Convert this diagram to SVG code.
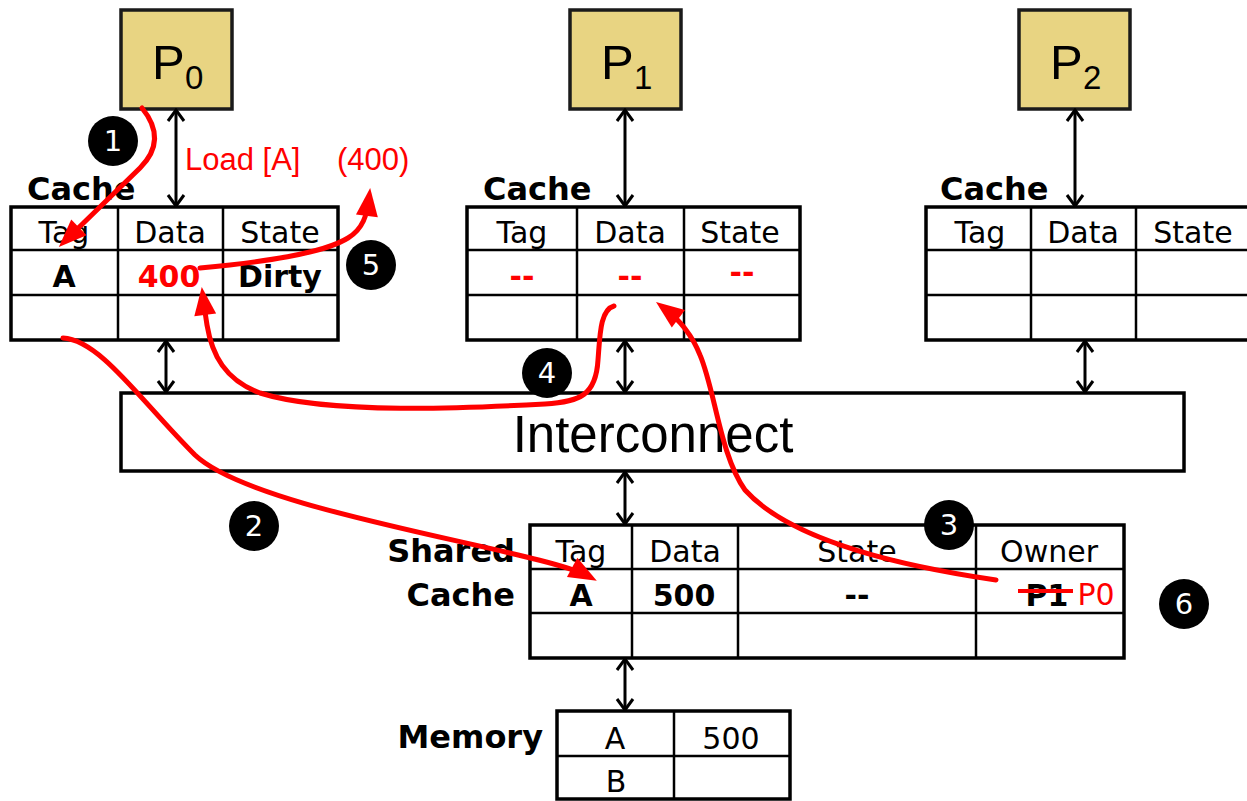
<svg xmlns="http://www.w3.org/2000/svg" width="1247" height="801" viewBox="0 0 1247 801">
<style>
.tb{fill:#fff;stroke:#000;stroke-width:3.5}
.tl{stroke:#000;stroke-width:2.5}
.pb{fill:#e8d482;stroke:#1a1a1a;stroke-width:3.5}
.pt{font-family:"Liberation Sans",Arial,sans-serif;font-size:49px;fill:#000}
.ps{font-family:"Liberation Sans",Arial,sans-serif;font-size:33px;fill:#000}
.hd{font-family:"DejaVu Sans",sans-serif;font-size:30px;text-anchor:middle;fill:#000}
.bd{font-family:"DejaVu Sans",sans-serif;font-weight:bold;font-size:30px;text-anchor:middle;fill:#000}
.lbl{font-family:"DejaVu Sans",sans-serif;font-weight:bold;font-size:32px;fill:#000}
.red{fill:#ff0000}
.ann{font-family:"Liberation Sans",Arial,sans-serif;font-size:31px;fill:#ff0000}
.bk{stroke:#000;stroke-width:3;fill:none;marker-start:url(#chev);marker-end:url(#chev)}
.rc{fill:none;stroke:#ff0000;stroke-width:5;stroke-linecap:round;marker-end:url(#rh)}
.nc{fill:#000}
.nt{font-family:"DejaVu Sans",sans-serif;font-size:29px;fill:#fff;text-anchor:middle}
</style>
<defs>
<marker id="chev" viewBox="-14 -10 16 20" refX="0" refY="0" markerWidth="16" markerHeight="20" markerUnits="userSpaceOnUse" orient="auto-start-reverse"><path d="M-11,-8 L0,0 L-11,8" fill="none" stroke="#000" stroke-width="3"/></marker>
<marker id="rh" viewBox="-20 -12 32 24" refX="0" refY="0" markerWidth="32" markerHeight="24" markerUnits="userSpaceOnUse" orient="auto"><path d="M10,0 L-18,-11 L-18,11 Z" fill="#ff0000"/></marker>
</defs>
<rect width="1247" height="801" fill="#fff"/>

<g id="p0"><rect class="pb" x="121" y="10" width="111" height="99"/><text class="pt" x="152" y="79">P</text><text class="ps" x="185" y="89">0</text></g>
<g id="p1"><rect class="pb" x="570" y="10" width="111" height="99"/><text class="pt" x="601" y="79">P</text><text class="ps" x="634" y="89">1</text></g>
<g id="p2"><rect class="pb" x="1019" y="10" width="111" height="99"/><text class="pt" x="1050" y="79">P</text><text class="ps" x="1083" y="89">2</text></g>

<g id="cache0">
<text class="lbl" x="27" y="200">Cache</text>
<rect class="tb" x="11" y="207" width="327" height="133"/>
<line class="tl" x1="11" y1="250" x2="338" y2="250"/><line class="tl" x1="11" y1="295" x2="338" y2="295"/>
<line class="tl" x1="118" y1="207" x2="118" y2="340"/><line class="tl" x1="223" y1="207" x2="223" y2="340"/>
<text class="hd" x="64" y="243">Tag</text><text class="hd" x="170" y="243">Data</text><text class="hd" x="280" y="243">State</text>
<text class="bd" x="64" y="287">A</text><text class="bd red" x="169" y="287">400</text><text class="bd" x="280" y="287">Dirty</text>
</g>
<g id="cache1">
<text class="lbl" x="483" y="200">Cache</text>
<rect class="tb" x="467" y="207" width="333" height="133"/>
<line class="tl" x1="467" y1="250" x2="800" y2="250"/><line class="tl" x1="467" y1="295" x2="800" y2="295"/>
<line class="tl" x1="577" y1="207" x2="577" y2="340"/><line class="tl" x1="684" y1="207" x2="684" y2="340"/>
<text class="hd" x="522" y="243">Tag</text><text class="hd" x="630" y="243">Data</text><text class="hd" x="740" y="243">State</text>
<text class="bd red" x="522" y="287">--</text><text class="bd red" x="630" y="287">--</text><text class="bd red" x="742" y="283">--</text>
</g>
<g id="cache2">
<text class="lbl" x="940" y="200">Cache</text>
<rect class="tb" x="926" y="207" width="340" height="133"/>
<line class="tl" x1="926" y1="250" x2="1266" y2="250"/><line class="tl" x1="926" y1="295" x2="1266" y2="295"/>
<line class="tl" x1="1031" y1="207" x2="1031" y2="340"/><line class="tl" x1="1136" y1="207" x2="1136" y2="340"/>
<text class="hd" x="980" y="243">Tag</text><text class="hd" x="1083" y="243">Data</text><text class="hd" x="1193" y="243">State</text>
</g>
<g id="interconnect">
<rect class="tb" x="121" y="393" width="1063" height="78"/>
<text x="653" y="452" font-family="Liberation Sans, Arial, sans-serif" font-size="51" text-anchor="middle">Interconnect</text>
</g>
<g id="shared">
<text class="lbl" x="515" y="562" text-anchor="end">Shared</text>
<text class="lbl" x="515" y="606" text-anchor="end">Cache</text>
<rect class="tb" x="530" y="525" width="594" height="133"/>
<line class="tl" x1="530" y1="569" x2="1124" y2="569"/><line class="tl" x1="530" y1="613" x2="1124" y2="613"/>
<line class="tl" x1="632" y1="525" x2="632" y2="658"/><line class="tl" x1="738" y1="525" x2="738" y2="658"/><line class="tl" x1="976" y1="525" x2="976" y2="658"/>
<text class="hd" x="581" y="562" font-size="32">Tag</text><text class="hd" x="685" y="562" font-size="32">Data</text><text class="hd" x="857" y="562" font-size="32">State</text><text class="hd" x="1049" y="562" font-size="32">Owner</text>
<text class="bd" x="581" y="606" font-size="32">A</text><text class="bd" x="684" y="606" font-size="32">500</text><text class="bd" x="857" y="606" font-size="32">--</text>
<text class="bd" x="1047" y="606" font-size="32">P1</text>
<text class="hd red" x="1096" y="605" font-size="31">P0</text>
<line x1="1018" y1="591" x2="1073" y2="591" stroke="#ff0000" stroke-width="4"/>
</g>
<g id="memory">
<text class="lbl" x="543" y="748" text-anchor="end">Memory</text>
<rect class="tb" x="557" y="711" width="233" height="88"/>
<line class="tl" x1="557" y1="756" x2="790" y2="756"/><line class="tl" x1="674" y1="711" x2="674" y2="799"/>
<text class="hd" x="615" y="749" font-size="32">A</text><text class="hd" x="731" y="749" font-size="31">500</text><text class="hd" x="616" y="792" font-size="32">B</text>
</g>

<g id="connectors">
<line class="bk" x1="176" y1="110" x2="176" y2="206"/>
<line class="bk" x1="625" y1="110" x2="625" y2="206"/>
<line class="bk" x1="1075" y1="110" x2="1075" y2="206"/>
<line class="bk" x1="166" y1="341" x2="166" y2="392"/>
<line class="bk" x1="625" y1="341" x2="625" y2="392"/>
<line class="bk" x1="1085" y1="341" x2="1085" y2="392"/>
<line class="bk" x1="625" y1="472" x2="625" y2="524"/>
<line class="bk" x1="625" y1="659" x2="625" y2="710"/>
</g>

<g id="annotations">
<text class="ann" x="185" y="170">Load [A]</text>
<text class="ann" x="337" y="170">(400)</text>
<path class="rc" d="M142,108 C160,130 158,150 140,168 L66,240"/>
<path class="rc" d="M63,338 C100,340 140,400 195,455 C255,512 540,550 588,576"/>
<path class="rc" d="M996,580 C900,566 790,540 745,490 C720,455 715,390 700,355 C692,335 680,320 664,308"/>
<path class="rc" d="M614,306 C600,310 600,335 598,360 C596,395 580,402 545,404 C470,408 330,415 260,393 C225,380 212,355 207,325 C205,312 204,305 203,297"/>
<path class="rc" d="M200,268 C262,262 322,254 348,238 C363,229 367,215 369,198"/>
</g>

<g id="steps">
<g id="s1"><circle class="nc" cx="113" cy="141" r="25"/><text class="nt" x="113" y="151">1</text></g>
<g id="s2"><circle class="nc" cx="254" cy="526" r="25"/><text class="nt" x="254" y="536">2</text></g>
<g id="s3"><circle class="nc" cx="949" cy="525" r="25"/><text class="nt" x="949" y="535">3</text></g>
<g id="s4"><circle class="nc" cx="547" cy="373" r="25"/><text class="nt" x="547" y="383">4</text></g>
<g id="s5"><circle class="nc" cx="371" cy="265" r="25"/><text class="nt" x="371" y="275">5</text></g>
<g id="s6"><circle class="nc" cx="1184" cy="604" r="25"/><text class="nt" x="1184" y="614">6</text></g>
</g>
</svg>
